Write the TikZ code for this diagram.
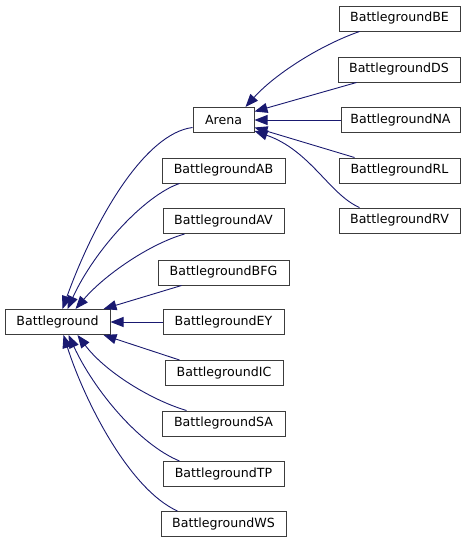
\documentclass[tikz,border=0pt]{standalone}
\usepackage{fontspec}
\setmainfont{DejaVu Sans}
\usetikzlibrary{arrows.meta,calc}
\definecolor{edgeblue}{RGB}{25,25,112}
\definecolor{boxline}{RGB}{60,60,60}
\begin{document}
\begin{tikzpicture}[x=1pt,y=-1pt,
  cls/.style={draw=boxline,line width=1pt,fill=white,minimum height=25pt,inner sep=0pt,
    font=\fontsize{12.6}{14}\selectfont},
  inh/.style={draw=edgeblue,line width=0.9pt,-{Triangle[length=13pt,width=10pt]},color=edgeblue}]
\useasboundingbox (0,0) rectangle (467,544);
\fill[white] (0,0) rectangle (467,544);
% nodes
\node[cls,minimum width=105pt] (bg) at (57.5,322) {Battleground};
\node[cls,minimum width=61pt] (arena) at (223.5,120) {Arena};
\node[cls,minimum width=123pt] (ab) at (223.5,170.5) {BattlegroundAB};
\node[cls,minimum width=121pt] (av) at (223.5,221) {BattlegroundAV};
\node[cls,minimum width=131pt] (bfg) at (223.5,272.5) {BattlegroundBFG};
\node[cls,minimum width=121pt] (ey) at (223.5,322) {BattlegroundEY};
\node[cls,minimum width=118pt] (ic) at (224,373) {BattlegroundIC};
\node[cls,minimum width=123pt] (sa) at (223.5,423.5) {BattlegroundSA};
\node[cls,minimum width=121pt] (tp) at (223.5,474) {BattlegroundTP};
\node[cls,minimum width=125pt] (ws) at (223.5,524) {BattlegroundWS};
\node[cls,minimum width=121pt] (be) at (399.5,18.5) {BattlegroundBE};
\node[cls,minimum width=122pt] (ds) at (399,69.5) {BattlegroundDS};
\node[cls,minimum width=119pt] (na) at (400.5,120) {BattlegroundNA};
\node[cls,minimum width=121pt] (rl) at (399.5,170.5) {BattlegroundRL};
\node[cls,minimum width=121pt] (rv) at (399.5,220.5) {BattlegroundRV};
% edges to Battleground
\draw[inh] ($(arena.south west)+(0,-5.5)$) .. controls +(-48,6) and +(32,-89) .. ($(bg.north west)+(58,0)$);
\draw[inh] ($(ab.south west)+(18,0)$) .. controls +(-35,12) and +(27,-59) .. ($(bg.north west)+(63,0)$);
\draw[inh] ($(av.south west)+(22,0)$) .. controls +(-35,10) and +(29,-34) .. ($(bg.north west)+(71,0)$);
\draw[inh] ($(bfg.south west)+(24,0)$) -- ($(bg.north west)+(99,0)$);
\draw[inh] (ey.west) -- (bg.east);
\draw[inh] ($(ic.north west)+(15,0)$) -- ($(bg.south west)+(99,0)$);
\draw[inh] ($(sa.north west)+(25,0)$) .. controls +(-37,-11) and +(27,36) .. ($(bg.south west)+(73,0)$);
\draw[inh] ($(tp.north west)+(17,0)$) .. controls +(-40,-16.5) and +(26,56) .. ($(bg.south west)+(64,0)$);
\draw[inh] ($(ws.north west)+(17,0)$) .. controls +(-48,-21.5) and +(21,66) .. ($(bg.south west)+(59,0)$);
% edges to Arena
\draw[inh] ($(be.south west)+(21,0)$) .. controls +(-40,14) and +(29,-32.5) .. ($(arena.north west)+(53,0)$);
\draw[inh] ($(ds.south west)+(19,0)$) -- ($(arena.north east)+(0,4.5)$);
\draw[inh] (na.west) -- (arena.east);
\draw[inh] ($(rl.north west)+(16,0)$) -- ($(arena.south east)+(0,-5.5)$);
\draw[inh] ($(rv.north west)+(21,0)$) .. controls +(-30,-13) and +(56,19.5) .. ($(arena.south east)+(0,-2)$);
\end{tikzpicture}
\end{document}
